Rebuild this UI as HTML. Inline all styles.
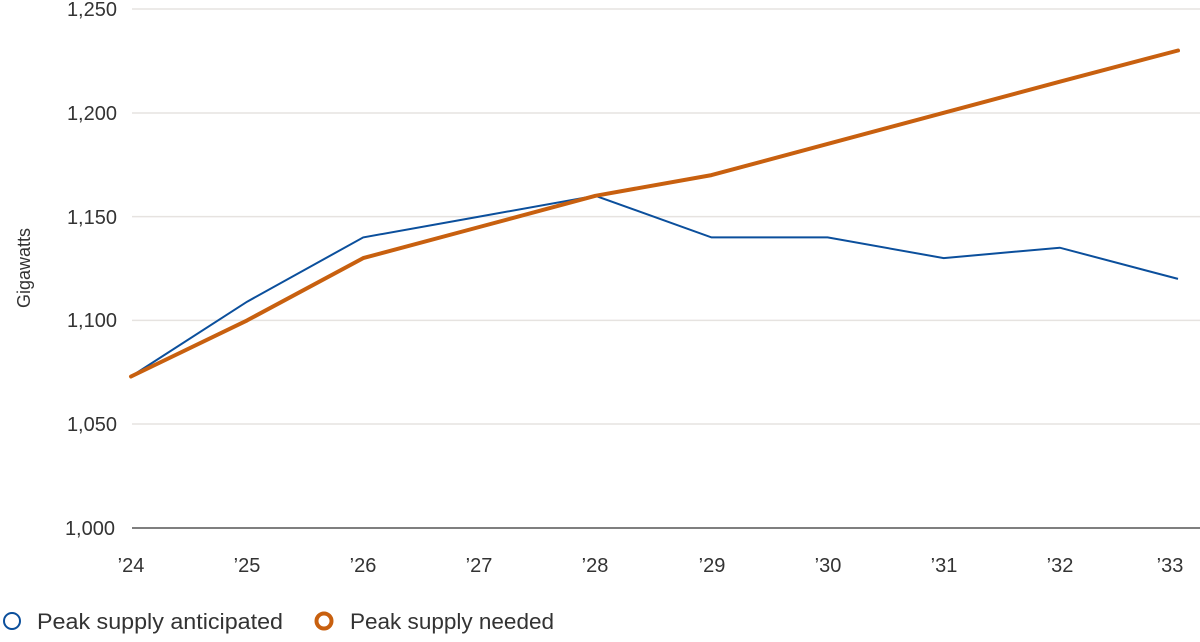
<!DOCTYPE html>
<html><head><style>
body{margin:0;background:#fff;}
svg text{font-family:"Liberation Sans",sans-serif;fill:#333;}
</style></head><body>
<svg width="1200" height="637" viewBox="0 0 1200 637" xmlns="http://www.w3.org/2000/svg">
<g stroke="#e6e3e0" stroke-width="1.5">
<line x1="132" x2="1200" y1="9" y2="9"/>
<line x1="132" x2="1200" y1="113" y2="113"/>
<line x1="132" x2="1200" y1="216.6" y2="216.6"/>
<line x1="132" x2="1200" y1="320.4" y2="320.4"/>
<line x1="132" x2="1200" y1="424" y2="424"/>
</g>
<line x1="132" x2="1200" y1="528" y2="528" stroke="#555" stroke-width="1.5"/>
<g font-size="20" text-anchor="end">
<text x="117" y="16">1,250</text>
<text x="117" y="120">1,200</text>
<text x="117" y="224">1,150</text>
<text x="117" y="327">1,100</text>
<text x="117" y="431">1,050</text>
<text x="115" y="535">1,000</text>
</g>
<g font-size="20" text-anchor="middle">
<text x="131" y="572">’24</text><text x="247" y="572">’25</text><text x="363" y="572">’26</text>
<text x="479" y="572">’27</text><text x="595" y="572">’28</text><text x="712" y="572">’29</text>
<text x="828" y="572">’30</text><text x="944" y="572">’31</text><text x="1060" y="572">’32</text>
<text x="1170" y="572">’33</text>
</g>
<text transform="translate(30,268) rotate(-90)" font-size="18" text-anchor="middle">Gigawatts</text>
<polyline fill="none" stroke="#0b4f9c" stroke-width="2" points="131,376.5 247.1,301.7 363.2,237.4 479.3,216.6 595.4,195.8 711.5,237.4 827.6,237.4 943.7,258.1 1059.8,247.7 1178,278.9"/>
<polyline fill="none" stroke="#c8600f" stroke-width="4" stroke-linejoin="round" stroke-linecap="round" points="131,376.5 247.1,320.4 363.2,258.1 479.3,227 595.4,195.8 711.5,175.1 827.6,143.9 943.7,112.8 1059.8,81.7 1178,50.5"/>
<circle cx="12" cy="621" r="8" fill="none" stroke="#0b4f9c" stroke-width="2"/>
<text x="37" y="629" font-size="22" textLength="246" lengthAdjust="spacingAndGlyphs">Peak supply anticipated</text>
<circle cx="324" cy="621" r="7.5" fill="none" stroke="#c8600f" stroke-width="4"/>
<text x="350" y="629" font-size="22" textLength="204" lengthAdjust="spacingAndGlyphs">Peak supply needed</text>
</svg>
</body></html>
